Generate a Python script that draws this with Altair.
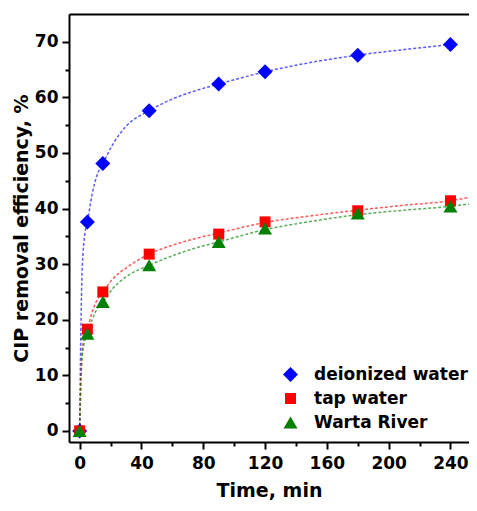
import altair as alt
import pandas as pd

# ---- data ----
series_names = ["deionized water", "tap water", "Warta River"]
time_min = [0, 5, 15, 45, 90, 120, 180, 240]
deionized = [0, 37.6, 48.1, 57.6, 62.4, 64.6, 67.6, 69.5]
tap = [0, 18.3, 25.0, 31.8, 35.4, 37.6, 39.6, 41.4]
warta = [0, 17.5, 23.2, 29.8, 34.0, 36.4, 39.1, 40.4]

# fitted (dotted) curves
fit_t_deion = [0, 0.4, 0.8, 1.3, 2.2, 3.3, 5, 8, 11, 15, 22, 30, 45, 60, 75, 90, 120, 150, 180, 210, 240]
fit_deion = [0, 10, 18, 26, 32, 35.3, 37.6, 42.5, 45.8, 48.1, 51.8, 54.8, 57.6, 59.7, 61.2, 62.4, 64.6, 66.3, 67.6, 68.6, 69.5]
fit_t_tw = [0, 0.5, 1, 1.7, 3, 5, 8, 11, 15, 22, 30, 45, 60, 75, 90, 120, 150, 180, 210, 240, 252]
fit_tap = [0, 6, 11, 14.5, 16.8, 18.3, 21.3, 23.4, 25.0, 27.5, 29.3, 31.8, 33.4, 34.6, 35.6, 37.5, 38.7, 39.7, 40.6, 41.4, 42.0]
fit_warta = [0, 5.5, 10, 13.5, 15.8, 17.5, 19.9, 21.8, 23.2, 25.8, 27.7, 29.8, 31.5, 32.9, 34.0, 36.2, 37.7, 38.9, 39.7, 40.4, 40.8]

x_ticks = [0, 20, 40, 60, 80, 100, 120, 140, 160, 180, 200, 220, 240]
y_ticks = [0, 5, 10, 15, 20, 25, 30, 35, 40, 45, 50, 55, 60, 65, 70]

pts = pd.DataFrame(
    [{"series": series_names[0], "t": t, "v": v} for t, v in zip(time_min, deionized)]
    + [{"series": series_names[1], "t": t, "v": v} for t, v in zip(time_min, tap)]
    + [{"series": series_names[2], "t": t, "v": v} for t, v in zip(time_min, warta)]
)
fit_frames = [
    pd.DataFrame({"t": fit_t_deion, "v": fit_deion}),
    pd.DataFrame({"t": fit_t_tw, "v": fit_tap}),
    pd.DataFrame({"t": fit_t_tw, "v": fit_warta}),
]

FONT = "DejaVu Sans"
colors = ["#0000ff", "#ff0000", "#008000"]
shapes = ["diamond", "square", "triangle-up"]
sizes = [225, 121, 196]

PLOT_W = 400
PX_PER_MIN = 1.545
xscale = alt.Scale(domain=[-6.9, -6.9 + PLOT_W / PX_PER_MIN], nice=False, zero=False)
yscale = alt.Scale(domain=[-2, 75], nice=False, zero=False)

legend = alt.Legend(
    title=None, orient="none", legendX=213, legendY=352,
    labelFont=FONT, labelFontSize=17, labelFontWeight="bold", labelColor="black",
    labelOffset=15, rowPadding=6, symbolStrokeWidth=0, padding=0,
)

x_axis_bottom = alt.Axis(
    values=x_ticks,
    labelExpr="datum.value % 40 === 0 ? datum.label : ''",
    tickDash={"condition": {"test": "datum.value % 40 !== 0", "value": [4, 20]}, "value": [20, 0]},
    title="Time, min", titleFont=FONT, titleFontSize=19, titleFontWeight="bold",
    titleColor="black", titlePadding=10,
    labelFont=FONT, labelFontSize=17, labelFontWeight="bold", labelColor="black",
    labelPadding=6, labelOverlap=False, labelFlush=False,
    domainColor="black", domainWidth=2, tickColor="black", tickWidth=2, tickSize=7,
    grid=False,
)
x_axis_top = alt.Axis(
    orient="top", labels=False, ticks=False, title=None, grid=False,
    domainColor="black", domainWidth=2,
)
y_axis = alt.Axis(
    values=y_ticks,
    labelExpr="datum.value % 10 === 0 ? datum.label : ''",
    tickDash={"condition": {"test": "datum.value % 10 !== 0", "value": [4, 20]}, "value": [20, 0]},
    title="CIP removal efficiency, %", titleFont=FONT, titleFontSize=19, titleFontWeight="bold",
    titleColor="black", titlePadding=3,
    labelFont=FONT, labelFontSize=17, labelFontWeight="bold", labelColor="black",
    labelPadding=4, labelOverlap=False, labelFlush=False,
    domainColor="black", domainWidth=2, tickColor="black", tickWidth=2, tickSize=7,
    grid=False,
)

line_layers = []
for i, (df, col) in enumerate(zip(fit_frames, colors)):
    line_layers.append(
        alt.Chart(df).mark_line(
            interpolate="monotone", strokeDash=[3, 2], strokeWidth=1.5,
            strokeOpacity=0.65, clip=True, color=col,
        ).encode(
            x=alt.X("t:Q", scale=xscale, axis=x_axis_top if i == 0 else None),
            y=alt.Y("v:Q", scale=yscale, axis=None),
        )
    )

points = alt.Chart(pts).mark_point(filled=True, opacity=1, strokeWidth=0).encode(
    x=alt.X("t:Q", scale=xscale, axis=x_axis_bottom),
    y=alt.Y("v:Q", scale=yscale, axis=y_axis),
    color=alt.Color("series:N", scale=alt.Scale(domain=series_names, range=colors), legend=legend),
    shape=alt.Shape("series:N", scale=alt.Scale(domain=series_names, range=shapes), legend=legend),
    size=alt.Size("series:N", scale=alt.Scale(type="ordinal", domain=series_names, range=sizes), legend=legend),
)

chart = alt.layer(*line_layers, points).resolve_axis(
    x="independent", y="independent"
).properties(
    width=PLOT_W, height=428,
    autosize=alt.AutoSizeParams(type="none"),
    padding={"left": 61, "top": 6, "right": 0, "bottom": 61},
).configure_view(stroke=None).configure(background="white")

chart.save("out.html", embed_options={"renderer": "svg", "actions": False})
